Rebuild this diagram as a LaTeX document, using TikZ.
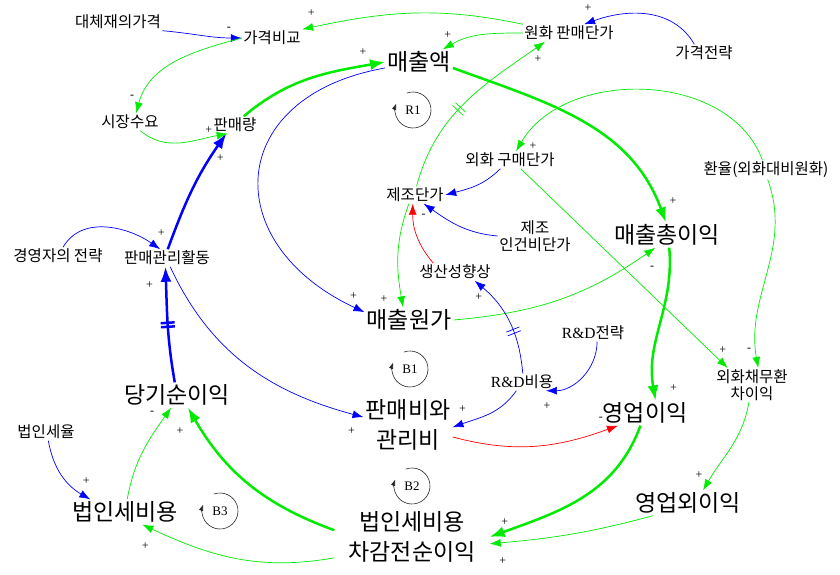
\documentclass[tikz,border=0pt]{standalone}
\usepackage{fontspec}
\setmainfont{Liberation Serif}
\newfontfamily\kr{Noto Sans CJK KR}
\usepackage{tikz}
\usetikzlibrary{arrows.meta, decorations.markings}
\definecolor{cldgreen}{RGB}{0, 235, 0}
\definecolor{cldblue}{RGB}{0, 0, 255}
\definecolor{cldred}{RGB}{255, 0, 0}
\newcommand{\rnd}{{\rmfamily R\&D}}
\newcommand{\loopsym}[3]{%
  \node[looptag] (#1) at (#2) {#3};
  \draw[loopline] (#1.center) ++(110:18pt) arc[start angle=110, end angle=-200, radius=18pt];
}

\begin{document}
\begin{tikzpicture}[
    x=1pt, y=1pt,
    bigvar/.style={font=\kr\fontsize{23}{30}\selectfont, inner sep=2pt, align=center},
    var/.style={font=\kr\fontsize{15.5}{16.5}\selectfont, inner sep=1.5pt, align=center},
    sgn/.style={font=\fontsize{12}{12}\selectfont, text=black, inner sep=0pt, pos=1},
    lnk/.style={line width=0.7pt, -{Latex[length=11pt, width=8pt]}},
    lnkthick/.style={line width=2.5pt, -{Latex[length=15pt, width=11pt]}},
    delaymark/.style={postaction={decorate, decoration={markings,
        mark=at position #1 with {\draw[-] (-2pt,-7pt) -- (-2pt,7pt) (2pt,-7pt) -- (2pt,7pt);}}}},
    looptag/.style={font=\fontsize{13}{13}\selectfont, inner sep=0pt},
    loopline/.style={line width=0.6pt, black!85, -{Triangle[length=6pt, width=4pt]}}
  ]
    \useasboundingbox (0,0) rectangle (840,-575);

    % variables
    \node[var]    (subst)    at (118,-22)  {대체재의가격};
    \node[var]    (pcomp)    at (272,-38)  {가격비교};
    \node[var]    (krwprice) at (569,-33)  {원화 판매단가};
    \node[var]    (pstrat)   at (704,-53)  {가격전략};
    \node[bigvar] (rev)      at (419,-62)  {매출액};
    \node[var]    (mkt)      at (130,-122) {시장수요};
    \node[var]    (vol)      at (235,-125) {판매량};
    \node[var]    (fxbuy)    at (510,-160) {외화 구매단가};
    \node[var]    (fxrate)   at (766,-170) {환율(외화대비원화)};
    \node[var]    (mfgcost)  at (415,-195) {제조단가};
    \node[var]    (labor)    at (535,-236) {제조\\인건비단가};
    \node[bigvar] (gross)    at (667,-235) {매출총이익};
    \node[var]    (salesact) at (167,-258) {판매관리활동};
    \node[var]    (mgmt)     at (58,-256)  {경영자의 전략};
    \node[var]    (prod)     at (455,-272) {생산성향상};
    \node[bigvar] (cogs)     at (409,-320) {매출원가};
    \node[var]    (rdstrat)  at (593,-333) {\rnd 전략};
    \node[var]    (rdcost)   at (522,-382) {\rnd 비용};
    \node[bigvar] (net)      at (177,-395) {당기순이익};
    \node[bigvar] (sga)      at (408,-425) {판매비와\\관리비};
    \node[bigvar] (opinc)    at (645,-413) {영업이익};
    \node[var]    (fxgain)   at (752,-385) {외화채무환\\차이익};
    \node[var]    (taxrate)  at (46,-432)  {법인세율};
    \node[bigvar] (tax)      at (125,-512) {법인세비용};
    \node[bigvar] (nonop)    at (688,-503) {영업외이익};
    \node[bigvar, inner xsep=14pt] (pretax) at (412,-537) {법인세비용\\차감전순이익};

    % loops
    \loopsym{rone}{413,-110}{R1}
    \loopsym{bone}{410,-369}{B1}
    \loopsym{btwo}{412,-486}{B2}
    \loopsym{bthree}{220,-511}{B3}

    % links
    \draw[lnk, cldblue] (subst.south east) to[out=-5, in=180] node[sgn, shift={(-13,9)}] {-} (pcomp.west);
    \draw[lnk, cldgreen] (krwprice.north west) to[out=168, in=12] node[sgn, shift={(9,16)}] {+} (pcomp.north east);
    \draw[lnk, cldgreen] (pcomp.west) to[out=195, in=75] node[sgn, shift={(-4,16)}] {-} (mkt.55);
    \draw[lnk, cldgreen] (mkt.-40) to[out=-40, in=190] node[sgn, shift={(-19,4)}] {+} (vol.230);
    \draw[lnkthick, cldgreen] (vol.45) to[out=40, in=190] node[sgn, shift={(-22,10)}] {+} (rev.west);
    \draw[lnk, cldblue] (rev.190) to[out=190, in=155, looseness=1.7] node[sgn, shift={(-11,16)}] {+} (cogs.170);
    \draw[lnk, cldgreen] (krwprice.west) to[out=180, in=30] node[sgn, shift={(5,14)}] {+} (rev.28);
    \draw[lnk, cldblue] (pstrat.138) to[out=120, in=20] node[sgn, shift={(4,16)}] {+} (krwprice.30);
    \draw[lnkthick, cldgreen] (rev.-10) to[out=-20, in=110] node[sgn, shift={(7,21)}] {+} (gross.95);
    \draw[lnk, cldgreen, delaymark=0.45] (mfgcost.80) to[out=75, in=215] node[sgn, shift={(-7,-17)}] {+} (krwprice.200);
    \draw[lnk, cldgreen] (fxrate.110) to[out=110, in=60] node[sgn, shift={(17,5)}] {+} (fxbuy.55);
    \draw[lnk, cldblue] (fxbuy.222) to[out=225, in=15] (mfgcost.east);
    \draw[lnk, cldgreen] (fxbuy.-39) -- node[sgn, shift={(-5,18)}] {+} (fxgain.145);
    \draw[lnk, cldgreen] (fxrate.-80) to[out=-70, in=100] node[sgn, shift={(-9,18)}] {-} (fxgain.70);
    \draw[lnk, cldblue] (labor.west) to[out=175, in=-35] (mfgcost.-45);
    \draw[lnk, cldred] (prod.158) to[out=130, in=-90] node[sgn, shift={(11,-12)}] {-} (mfgcost.255);
    \draw[lnk, cldgreen] (mfgcost.235) to[out=250, in=100] node[sgn, shift={(-19,8)}] {+} (cogs.115);
    \draw[lnk, cldgreen] (cogs.east) to[out=5, in=215] node[sgn, shift={(-3,-20)}] {-} (gross.227);
    \draw[lnk, cldblue, delaymark=0.4] (rdcost.85) to[out=95, in=-40] node[sgn, shift={(4,-16)}] {+} (prod.-24);
    \draw[lnk, cldblue] (rdstrat.-65) to[out=-90, in=0] node[sgn, shift={(1,-15)}] {+} (rdcost.-20);
    \draw[lnk, cldblue] (rdcost.237) to[out=235, in=20] node[sgn, shift={(10,18)}] {+} (sga.-3);
    \draw[lnk, cldblue] (salesact.-70) to[out=-65, in=165] node[sgn, shift={(-12,-14)}] {+} (sga.170);
    \draw[lnkthick, cldblue] (salesact.85) to[out=70, in=235] node[sgn, shift={(-6,-24)}] {+} (vol.225);
    \draw[lnkthick, cldblue, delaymark=0.5] (net.100) to[out=100, in=-88] node[sgn, shift={(-16,-18)}] {+} (salesact.-100);
    \draw[lnk, cldblue] (mgmt.60) to[out=60, in=145] node[sgn, shift={(1,16)}] {+} (salesact.128);
    \draw[lnk, cldred] (sga.-15) to[out=-15, in=200] node[sgn, shift={(-17,7)}] {-} (opinc.205);
    \draw[lnkthick, cldgreen] (gross.-80) to[out=-85, in=100] node[sgn, shift={(18,12)}] {+} (opinc.50);
    \draw[lnkthick, cldgreen] (opinc.250) to[out=-110, in=20] node[sgn, shift={(15,15)}] {+} (pretax.east);
    \draw[lnk, cldgreen] (nonop.200) to[out=195, in=5] node[sgn, shift={(13,-17)}] {+} (pretax.-5);
    \draw[lnk, cldgreen] (fxgain.-100) to[out=-100, in=60] node[sgn, shift={(-4,15)}] {+} (nonop.40);
    \draw[lnkthick, cldgreen] (pretax.175) to[out=160, in=-60] node[sgn, shift={(-8,-23)}] {+} (net.-49);
    \draw[lnk, cldgreen] (pretax.195) to[out=190, in=-25] node[sgn, shift={(3,-21)}] {+} (tax.-36);
    \draw[lnk, cldgreen] (tax.80) to[out=80, in=235] node[sgn, shift={(-19,-5)}] {-} (net.-115);
    \draw[lnk, cldblue] (taxrate.-75) to[out=-80, in=150] node[sgn, shift={(-4,18)}] {+} (tax.160);
\end{tikzpicture}
\end{document}
